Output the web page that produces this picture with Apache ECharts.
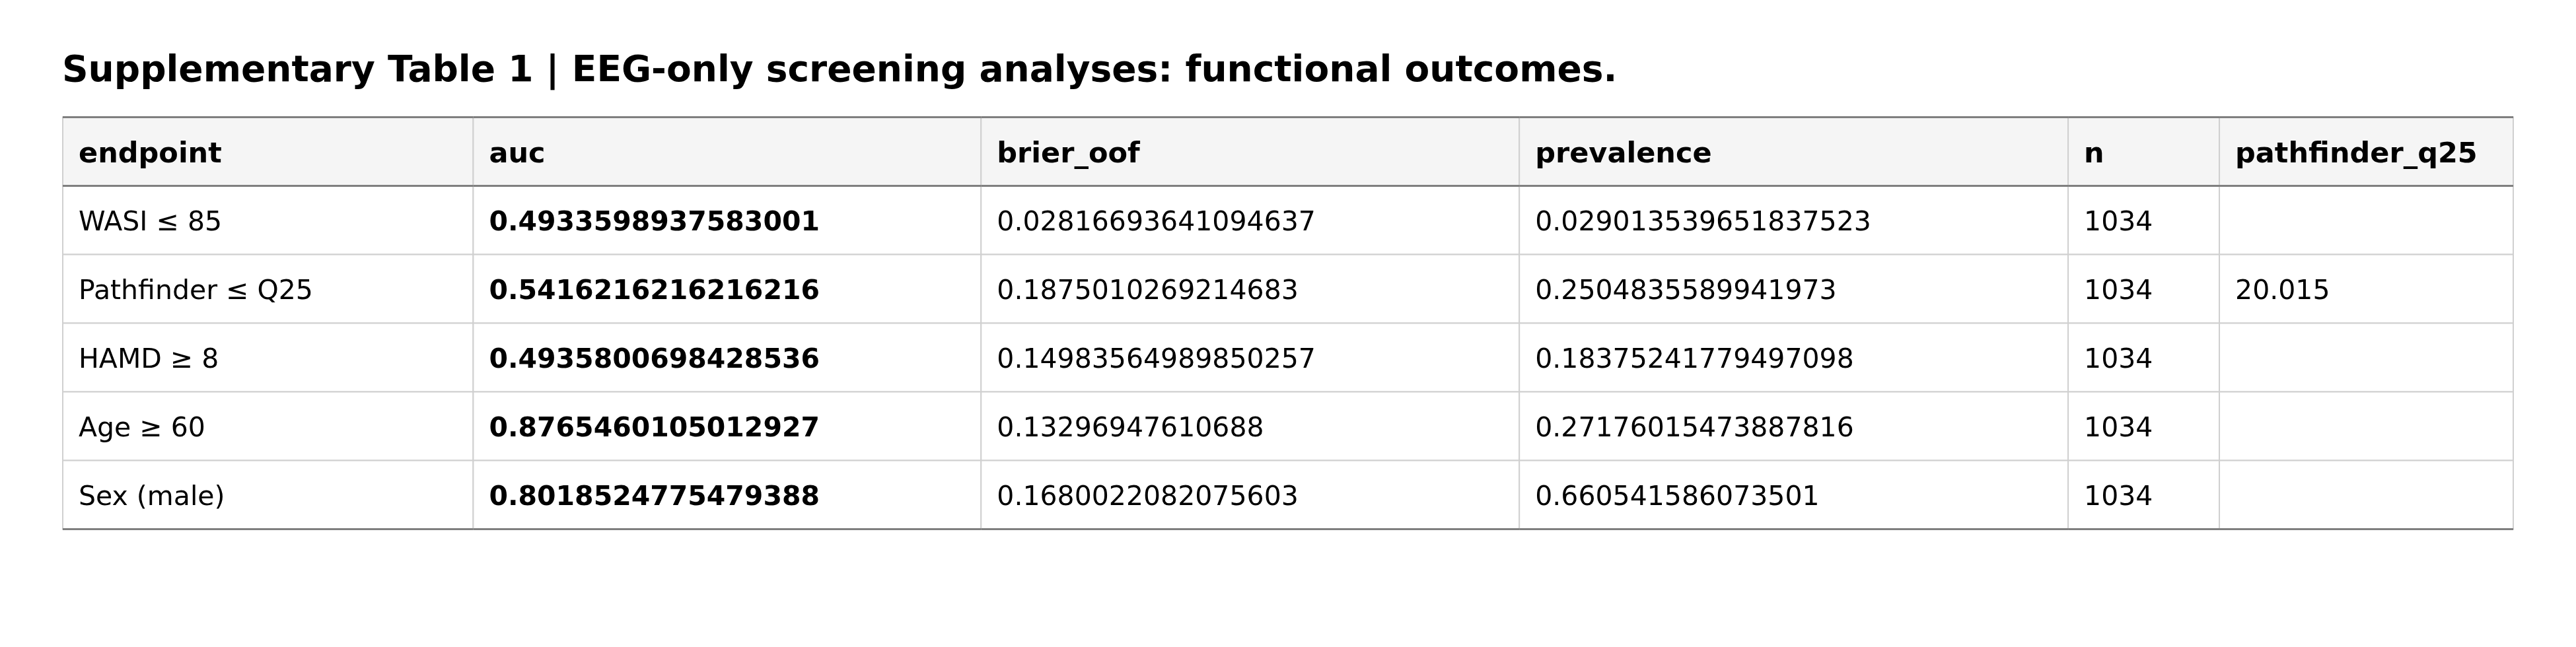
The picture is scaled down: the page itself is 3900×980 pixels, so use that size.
<!DOCTYPE html>
<html>
<head>
<meta charset="utf-8">
<script src="https://cdn.jsdelivr.net/npm/echarts@6/dist/echarts.min.js"></script>
<style>
html,body{margin:0;padding:0;background:#fff;}
#chart{width:3900px;height:980px;}
</style>
</head>
<body>
<div id="chart"></div>
<script>
// ---- data ----
const columns = ['endpoint', 'auc', 'brier_oof', 'prevalence', 'n', 'pathfinder_q25'];
const endpoints = ['WASI \u2264 85', 'Pathfinder \u2264 Q25', 'HAMD \u2265 8', 'Age \u2265 60', 'Sex (male)'];
const auc = [0.4933598937583001, 0.5416216216216216, 0.4935800698428536, 0.8765460105012927, 0.8018524775479388];
const brierOof = [0.02816693641094637, 0.1875010269214683, 0.14983564989850257, 0.13296947610688, 0.1680022082075603];
const prevalence = [0.029013539651837523, 0.2504835589941973, 0.18375241779497098, 0.27176015473887816, 0.660541586073501];
const nVals = [1034, 1034, 1034, 1034, 1034];
const pathfinderQ25 = [null, 20.015, null, null, null];
const titleText = 'Supplementary Table 1 | EEG-only screening analyses: functional outcomes.';

// ---- layout (column widths in axis units) ----
const colWidths = [621.5, 769, 815, 831, 229, 445];
const colEdges = [0];
colWidths.forEach(w => colEdges.push(colEdges[colEdges.length - 1] + w));
const boldCols = [1];

const colData = [endpoints, auc, brierOof, prevalence, nVals, pathfinderQ25];
const rowCats = ['header'].concat(endpoints);

const cells = [];
for (let r = 0; r < rowCats.length; r++) {
  for (let c = 0; c < columns.length; c++) {
    let txt;
    if (r === 0) txt = columns[c];
    else {
      const v = colData[c][r - 1];
      txt = (v === null || v === undefined) ? '' : String(v);
    }
    cells.push({ value: [c, r], txt: txt });
  }
}

const FONT = '"DejaVu Sans", sans-serif';
const FS_BODY = 41;
const FS_HEAD = 43;
const nRows = rowCats.length;

function renderItem(params, api) {
  const c = api.value(0), r = api.value(1);
  const p0 = api.coord([colEdges[c], r]);
  const p1 = api.coord([colEdges[c + 1], r]);
  const h = api.size([0, 1])[1];
  const x0 = p0[0], x1 = p1[0], yc = p0[1];
  const y0 = yc - h / 2, y1 = yc + h / 2;
  const item = cells[params.dataIndex];
  const isHeader = r === 0;
  const children = [
    { type: 'rect', shape: { x: x0, y: y0, width: x1 - x0, height: h },
      style: { fill: isHeader ? '#f5f5f5' : '#ffffff', stroke: '#d0d0d0', lineWidth: 2 }, z2: 1 },
    { type: 'text', z2: 20,
      style: { x: x0 + 24, y: yc + 5, text: item.txt, fill: '#000000',
        fontFamily: FONT, fontSize: isHeader ? FS_HEAD : FS_BODY,
        fontWeight: (isHeader || boldCols.indexOf(c) >= 0) ? 'bold' : 'normal',
        align: 'left', verticalAlign: 'middle' } }
  ];
  if (isHeader) {
    children.push({ type: 'line', z2: 10, shape: { x1: x0, y1: y0, x2: x1, y2: y0 },
      style: { stroke: '#7f7f7f', lineWidth: 3 } });
    children.push({ type: 'line', z2: 10, shape: { x1: x0, y1: y1, x2: x1, y2: y1 },
      style: { stroke: '#7f7f7f', lineWidth: 3 } });
  }
  if (r === nRows - 1) {
    children.push({ type: 'line', z2: 10, shape: { x1: x0, y1: y1, x2: x1, y2: y1 },
      style: { stroke: '#7f7f7f', lineWidth: 3 } });
  }
  return { type: 'group', children: children };
}

const chart = echarts.init(document.getElementById('chart'), null, { renderer: 'canvas' });
chart.setOption({
  backgroundColor: '#ffffff',
  animation: false,
  title: {
    text: titleText, left: 94, top: 81, padding: 0,
    textStyle: { fontFamily: FONT, fontSize: 55, fontWeight: 'bold', color: '#000000' }
  },
  grid: { left: 95, right: 95, top: 177.5, bottom: 178.5 },
  xAxis: { type: 'value', min: 0, max: colEdges[colEdges.length - 1], show: false },
  yAxis: { type: 'category', data: rowCats, inverse: true, show: false },
  series: [{
    type: 'custom',
    renderItem: renderItem,
    data: cells.map(d => d.value),
    encode: { x: 0, y: 1 },
    silent: true
  }]
});
</script>
</body>
</html>
